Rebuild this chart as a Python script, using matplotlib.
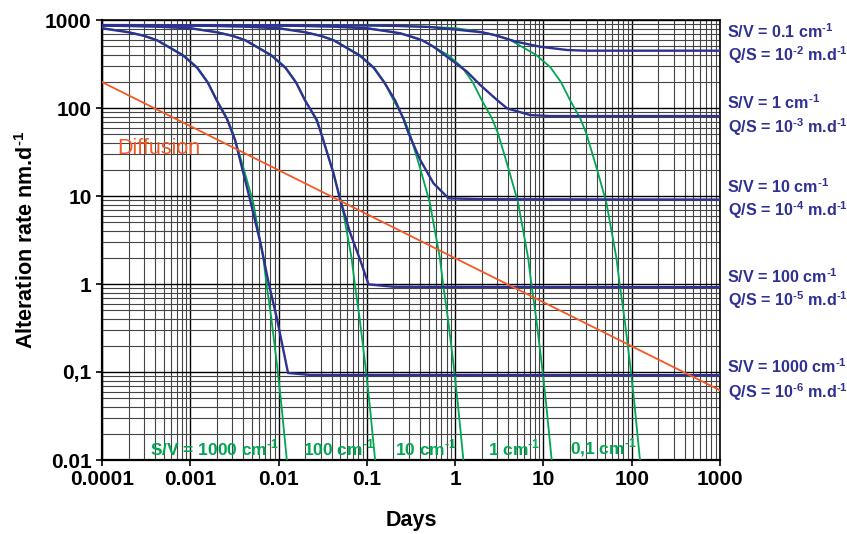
import matplotlib.pyplot as plt
import numpy as np
from matplotlib.ticker import LogLocator, NullFormatter, FixedLocator, FixedFormatter

plt.rcParams['font.family'] = ['Liberation Sans', 'DejaVu Sans']
plt.rcParams['mathtext.fontset'] = 'custom'
plt.rcParams['mathtext.rm'] = 'Liberation Sans'
plt.rcParams['mathtext.bf'] = 'Liberation Sans:bold'

BLUE = '#2e3192'
GREEN = '#00a651'
ORANGE = '#f15a24'

# superscript exponent with a short hyphen instead of the math minus
def sup(n):
    return '$^{\\mathbf{\u2010%d}}$' % n

# closed system, no renewal (days, nm/d)
t_closed_1000 = [1e-4, 2e-4, 3e-4, 4.2e-4, 8.3e-4, 1.2e-3, 1.58e-3, 2.0e-3, 2.6e-3, 3.05e-3,
                 3.97e-3, 5.15e-3, 6.7e-3, 7.3e-3, 8.3e-3, 9.6e-3, 1.07e-2, 1.24e-2]
r_closed_1000 = [810, 730, 665, 593, 400, 290, 197, 123, 77, 52,
                 21.4, 8.5, 2.0, 1.0, 0.4, 0.12, 0.045, 0.01]

t_closed_100 = [1e-4, 4e-4, 1e-3, 2e-3, 3e-3, 4.2e-3, 8.3e-3, 1.2e-2, 1.58e-2, 2.0e-2, 2.6e-2, 3.05e-2,
                3.97e-2, 5.15e-2, 6.7e-2, 7.3e-2, 8.3e-2, 9.6e-2, 0.107, 0.124]
r_closed_100 = [867, 843, 810, 730, 665, 593, 400, 290, 197, 123, 77, 52,
                21.4, 8.5, 2.0, 1.0, 0.4, 0.12, 0.045, 0.01]

t_closed_10 = [1e-4, 1e-3, 4e-3, 1e-2, 2e-2, 3e-2, 4.2e-2, 8.3e-2, 0.12, 0.158, 0.2, 0.26, 0.305,
               0.397, 0.515, 0.67, 0.73, 0.83, 0.96, 1.07, 1.24]
r_closed_10 = [875, 867, 843, 810, 730, 665, 593, 400, 290, 197, 123, 77, 52,
               21.4, 8.5, 2.0, 1.0, 0.4, 0.12, 0.045, 0.01]

t_closed_1 = [1e-4, 1e-2, 4e-2, 0.1, 0.2, 0.3, 0.42, 0.83, 1.2, 1.58, 2.0, 2.6, 3.05,
              3.97, 5.15, 6.7, 7.3, 8.3, 9.6, 10.7, 12.4]
r_closed_1 = [875, 867, 843, 810, 730, 665, 593, 400, 290, 197, 123, 77, 52,
              21.4, 8.5, 2.0, 1.0, 0.4, 0.12, 0.045, 0.01]

t_closed_01 = [1e-4, 0.1, 0.4, 1.0, 2.0, 3.0, 4.2, 8.3, 12, 15.8, 20, 26, 30.5,
               39.7, 51.5, 67, 73, 83, 96, 107, 124]
r_closed_01 = [875, 867, 843, 810, 730, 665, 593, 400, 290, 197, 123, 77, 52,
               21.4, 8.5, 2.0, 1.0, 0.4, 0.12, 0.045, 0.01]

# open system with flow Q/S
t_flow_1000 = [1e-4, 2e-4, 3e-4, 4.2e-4, 8.3e-4, 1.2e-3, 1.58e-3, 2.0e-3, 2.6e-3, 3.22e-3,
               4.76e-3, 6.3e-3, 7.6e-3, 9.6e-3, 1.28e-2, 2.3e-2, 1000]
r_flow_1000 = [805, 725, 660, 588, 395, 285, 194, 121, 75, 43,
               9.0, 2.8, 1.1, 0.40, 0.0975, 0.0925, 0.092]

t_flow_100 = [1e-4, 4e-4, 1e-3, 2e-3, 3e-3, 4.2e-3, 8.3e-3, 1.2e-2, 1.58e-2, 2.0e-2, 2.72e-2,
              4.19e-2, 4.99e-2, 6.48e-2, 8.41e-2, 0.1045, 0.2, 1000]
r_flow_100 = [866, 842, 805, 725, 660, 588, 395, 285, 194, 121, 73,
              18.2, 9.0, 3.8, 1.87, 0.99, 0.93, 0.92]

t_flow_10 = [1e-4, 1e-3, 4e-3, 1e-2, 2e-2, 3e-2, 4.2e-2, 8.3e-2, 0.12, 0.158, 0.21, 0.26,
             0.297, 0.403, 0.57, 0.843, 2.0, 1000]
r_flow_10 = [872, 866, 842, 805, 725, 660, 588, 395, 285, 194, 121, 75,
             51.5, 25.6, 13.9, 9.4, 9.2, 9.1]

t_flow_1 = [1e-4, 1e-2, 4e-2, 0.1, 0.239, 0.42, 0.57, 0.962, 1.365, 1.93, 2.99, 3.88, 7.13, 12, 1000]
r_flow_1 = [872, 866, 842, 805, 707, 590, 497, 336, 258, 182, 123, 99, 83, 81, 81]

t_flow_01 = [1e-4, 0.1, 0.239, 0.5, 0.962, 2.0, 2.78, 4.95, 9.2, 18.5, 30, 1000]
r_flow_01 = [875, 868, 854, 835, 783, 725, 676, 566, 497, 456, 448, 448]

# diffusion-controlled rate
t_diff = [1e-4, 1000]
r_diff = [197, 0.062]

x_ticks = [1e-4, 1e-3, 1e-2, 1e-1, 1, 10, 100, 1000]
x_tick_labels = ['0.0001', '0.001', '0.01', '0.1', '1', '10', '100', '1000']
y_ticks = [0.01, 0.1, 1, 10, 100, 1000]
y_tick_labels = ['0.01', '0,1', '1', '10', '100', '1000']

closed_labels = ['S/V = 1000 cm' + sup(1), '100 cm' + sup(1), '10 cm' + sup(1),
                 '1 cm' + sup(1), '0,1 cm' + sup(1)]
closed_label_x = [3.5e-4, 0.019, 0.21, 2.38, 20.2]

flow_sv_labels = ['S/V = %s cm' % v + sup(1) for v in ['0.1', '1', '10', '100', '1000']]
flow_qs_labels = ['Q/S = 10' + sup(n) + ' m.d' + sup(1) for n in [2, 3, 4, 5, 6]]
flow_sv_y = [32, 103, 187, 277, 367]
flow_qs_y = [55, 127, 210, 300, 392]

W, H = 847, 534
fig = plt.figure(figsize=(W / 100, H / 100), dpi=100)
ax = fig.add_axes([102 / W, 1 - 460 / H, 618 / W, 440 / H])
ax.set_xscale('log')
ax.set_yscale('log')
ax.set_xlim(1e-4, 1000)
ax.set_ylim(0.01, 1000)

ax.xaxis.set_minor_locator(LogLocator(base=10, subs=np.arange(2, 10), numticks=100))
ax.yaxis.set_minor_locator(LogLocator(base=10, subs=np.arange(2, 10), numticks=100))
ax.xaxis.set_minor_formatter(NullFormatter())
ax.yaxis.set_minor_formatter(NullFormatter())
ax.xaxis.set_major_locator(FixedLocator(x_ticks))
ax.xaxis.set_major_formatter(FixedFormatter(x_tick_labels))
ax.yaxis.set_major_locator(FixedLocator(y_ticks))
ax.yaxis.set_major_formatter(FixedFormatter(y_tick_labels))

ax.grid(which='major', color='black', lw=1.0)
ax.grid(which='minor', color='#444444', lw=0.8)
ax.set_axisbelow(True)
ax.tick_params(which='major', direction='out', length=4.5, width=1.2, labelsize=15, pad=3)
ax.tick_params(which='minor', length=0)
for lab in ax.get_xticklabels() + ax.get_yticklabels():
    lab.set_fontweight('bold')
for side in ['left', 'bottom']:
    ax.spines[side].set_linewidth(1.6)
for side in ['top', 'right']:
    ax.spines[side].set_linewidth(1.2)

closed = [(t_closed_1000, r_closed_1000), (t_closed_100, r_closed_100), (t_closed_10, r_closed_10),
          (t_closed_1, r_closed_1), (t_closed_01, r_closed_01)]
flow = [(t_flow_1000, r_flow_1000), (t_flow_100, r_flow_100), (t_flow_10, r_flow_10),
        (t_flow_1, r_flow_1), (t_flow_01, r_flow_01)]

for t, r in closed:
    ax.plot(t, r, color=GREEN, lw=1.3, zorder=3)
for t, r in flow:
    ax.plot(t, r, color=BLUE, lw=1.7, zorder=4)
ax.plot(t_diff, r_diff, color=ORANGE, lw=1.3, zorder=5)

ax.text(1.48e-4, 34.7, 'Diffusion', color=ORANGE, fontsize=15.5, ha='left', va='center', zorder=6)

for txt, x in zip(closed_labels, closed_label_x):
    ax.text(x, 0.0137, txt, color=GREEN, fontsize=12.5, fontweight='bold', ha='left', va='center', zorder=6)

for txt, y in zip(flow_sv_labels, flow_sv_y):
    fig.text(727 / W, 1 - y / H, txt, color=BLUE, fontsize=11.6, fontweight='bold', ha='left', va='center')
for txt, y in zip(flow_qs_labels, flow_qs_y):
    fig.text(728 / W, 1 - y / H, txt, color=BLUE, fontsize=11.6, fontweight='bold', ha='left', va='center')

ax.set_xlabel('Days', fontsize=15.5, fontweight='bold')
ax.set_ylabel('Alteration rate nm.d' + sup(1), fontsize=15.5, fontweight='bold')
ax.xaxis.set_label_coords(0.5, -0.113)
ax.yaxis.set_label_coords(-0.104, 0.5)

fig.savefig('out.png', dpi=100)
